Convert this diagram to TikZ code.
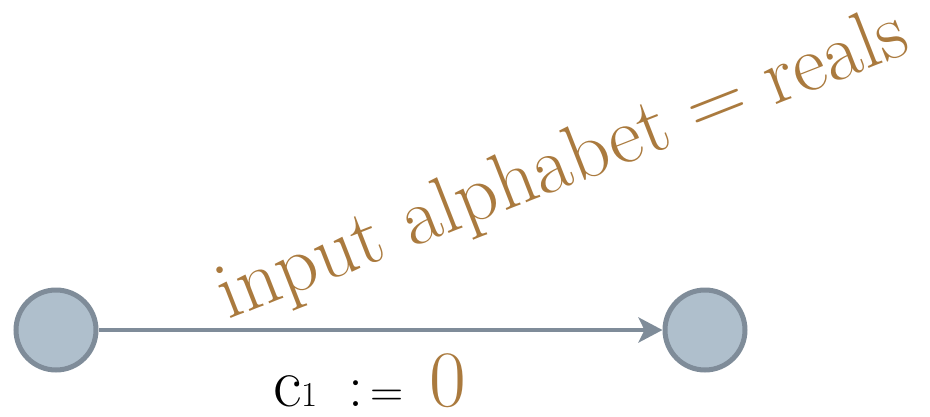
\documentclass[tikz,border=0pt]{standalone}
\usepackage{fontspec}
\newfontfamily\tnr{Latin Modern Roman}
\usetikzlibrary{arrows.meta}
\definecolor{brn}{RGB}{170,122,62}
\definecolor{stfill}{RGB}{175,191,204}
\definecolor{stline}{RGB}{127,140,153}
\begin{document}
\begin{tikzpicture}[x=1pt,y=-1pt,
  state/.style={circle,draw=stline,fill=stfill,line width=5pt,minimum size=80pt,inner sep=0pt},
  conn/.style={draw=stline,line width=4.5pt,-{Stealth[length=24pt,width=25pt,inset=6pt]}}]
\useasboundingbox (0,0) rectangle (930,416);
\node[state] (s0) at (56,330) {};
\node[state] (s1) at (705,330) {};
\draw[conn] (s0) -- (s1);
\node[text=brn,font=\tnr\fontsize{81}{81}\selectfont,anchor=base west,rotate=21.4,inner sep=0pt] (alpha) at (228,320) {input alphabet = reals};
\node[anchor=base west,inner sep=0pt,font=\tnr] (lbl) at (273,406) {\fontsize{70}{70}\selectfont c{\fontsize{35}{35}\selectfont 1}\hspace{31pt}{\fontsize{60}{60}\selectfont :}\hspace{7pt}{\fontsize{46}{46}\selectfont =}\hspace{26pt}\textcolor{brn}{\fontsize{80}{80}\selectfont 0}};
\end{tikzpicture}
\end{document}
